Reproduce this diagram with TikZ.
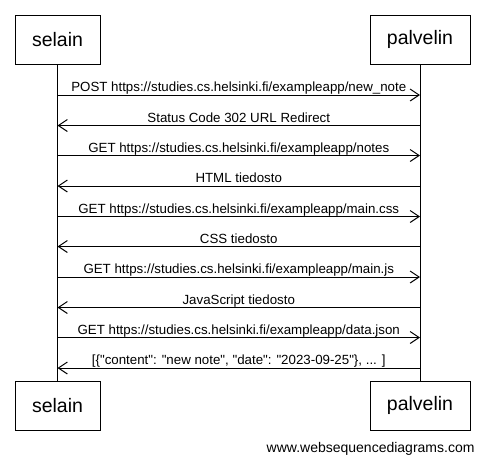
\documentclass[tikz,border=0pt]{standalone}
\usepackage{fontspec}
\setmainfont{Liberation Sans}[Ligatures=TeXOff]
\usetikzlibrary{arrows.meta, positioning}

\begin{document}
\begin{tikzpicture}[x=1pt, y=-1pt, line width=1pt,
    actor/.style={draw, minimum height=49pt, inner sep=0pt, font=\fontsize{19.5}{22}\selectfont},
    msg/.style={-{Straight Barb[length=9pt,width=12pt]}},
    lbl/.style={midway, anchor=base, yshift=3.5pt, inner sep=0pt, font=\fontsize{13.3}{15}\selectfont}]
    \useasboundingbox (0,0) rectangle (485,464);
    % participants
    \node (selain) [actor, minimum width=85pt] at (57.5,39.5) {selain};
    \node (palvelin) [actor, minimum width=100pt] at (420,39.5) {palvelin};
    \node (selain2) [actor, minimum width=85pt] at (57.5,405.5) {selain};
    \node (palvelin2) [actor, minimum width=100pt] at (420,405.5) {palvelin};
    \draw (selain) -- (selain2);
    \draw (palvelin) -- (palvelin2);
    % messages
    \draw[msg] (selain.south |- 0,95) -- node[lbl] {POST https://studies.cs.helsinki.fi/exampleapp/new\_note} (palvelin.south |- 0,95);
    \draw[msg] (palvelin.south |- 0,125.5) -- node[lbl] {Status Code 302 URL Redirect} (selain.south |- 0,125.5);
    \draw[msg] (selain.south |- 0,155.5) -- node[lbl] {GET https://studies.cs.helsinki.fi/exampleapp/notes} (palvelin.south |- 0,155.5);
    \draw[msg] (palvelin.south |- 0,186) -- node[lbl] {HTML tiedosto} (selain.south |- 0,186);
    \draw[msg] (selain.south |- 0,216.5) -- node[lbl] {GET https://studies.cs.helsinki.fi/exampleapp/main.css} (palvelin.south |- 0,216.5);
    \draw[msg] (palvelin.south |- 0,246.5) -- node[lbl] {CSS tiedosto} (selain.south |- 0,246.5);
    \draw[msg] (selain.south |- 0,277) -- node[lbl] {GET https://studies.cs.helsinki.fi/exampleapp/main.js} (palvelin.south |- 0,277);
    \draw[msg] (palvelin.south |- 0,307.5) -- node[lbl] {JavaScript tiedosto} (selain.south |- 0,307.5);
    \draw[msg] (selain.south |- 0,337.5) -- node[lbl] {GET https://studies.cs.helsinki.fi/exampleapp/data.json} (palvelin.south |- 0,337.5);
    \draw[msg] (palvelin.south |- 0,368) -- node[lbl] {[\{"content": "new note", "date": "2023-09-25"\}, ... ]} (selain.south |- 0,368);
    \node (credit) [anchor=base east, inner sep=0pt, font=\fontsize{14}{16}\selectfont] at (475,452) {www.websequencediagrams.com};
\end{tikzpicture}
\end{document}
